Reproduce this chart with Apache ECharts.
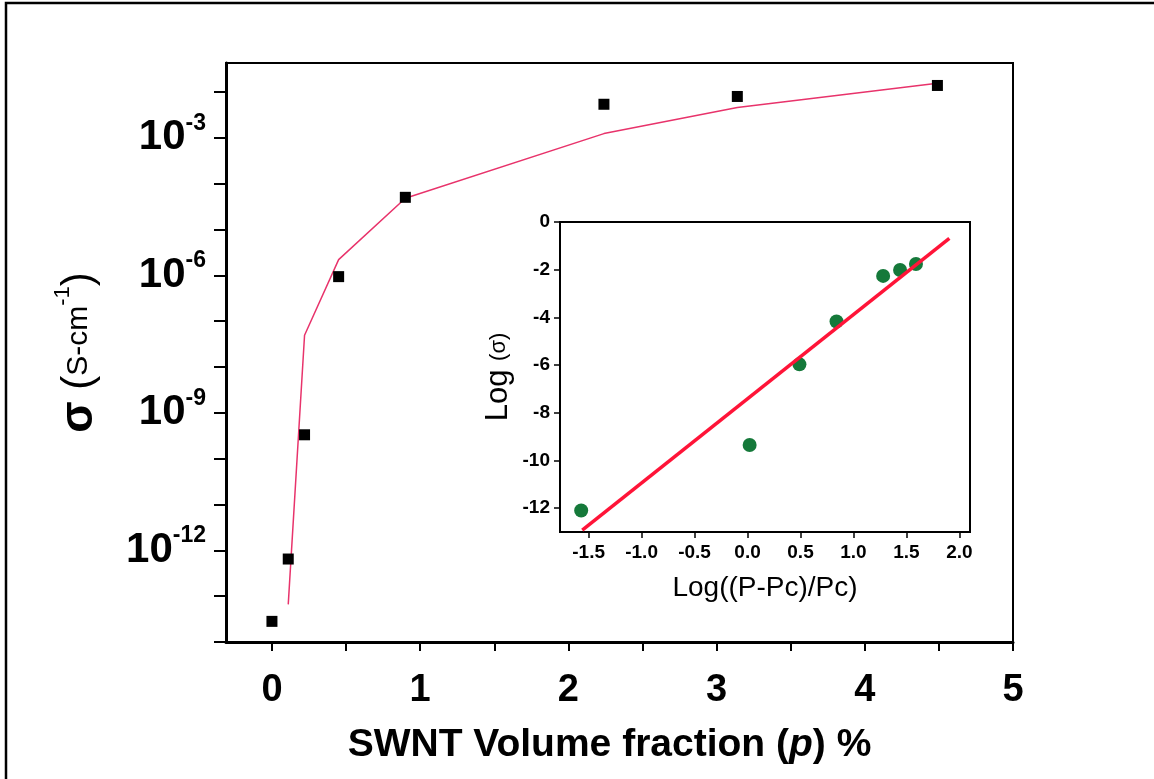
<!DOCTYPE html>
<html>
<head>
<meta charset="utf-8">
<script src="https://cdn.jsdelivr.net/npm/echarts@6/dist/echarts.min.js"></script>
<style>
  html, body { margin: 0; padding: 0; background: #fff; }
  #chart { width: 1154px; height: 779px; }
</style>
</head>
<body>
<div id="chart"></div>
<script>
const font = 'Liberation Sans';

// Main plot: conductivity vs SWNT volume fraction (sigma stored as log10)
const volFraction = [0, 0.11, 0.22, 0.45, 0.9, 2.24, 3.14, 4.49];
const sigmaLog = [-13.55, -12.19, -9.48, -6.03, -4.3, -2.27, -2.1, -1.86];

// Fitted curve as drawn in the picture
const fitFraction = [0.11, 0.22, 0.45, 0.9, 2.24, 3.14, 4.49];
const fitSigmaLog = [-13.18, -7.31, -5.66, -4.32, -2.91, -2.34, -1.81];

// Inset: log(sigma) vs log((p - pc) / pc)
const insetX = [-1.57, 0.02, 0.49, 0.84, 1.28, 1.44, 1.59];
const insetY = [-12.1, -9.35, -5.97, -4.17, -2.26, -2.01, -1.76];
const insetFitX = [-1.56, 1.905];
const insetFitY = [-12.92, -0.69];

// Tick labels
const mainXLabels = [0, 1, 2, 3, 4, 5];
const mainXTicks = [0, 0.5, 1, 1.5, 2, 2.5, 3, 3.5, 4, 4.5, 5];
const mainYLabels = [-12, -9, -6, -3];
const mainYTicks = [-14, -13, -12, -11, -10, -9, -8, -7, -6, -5, -4, -3, -2];
const insetXLabels = [-1.5, -1.0, -0.5, 0.0, 0.5, 1.0, 1.5, 2.0];
const insetYLabels = [-12, -10, -8, -6, -4, -2, 0];

const chart = echarts.init(document.getElementById('chart'));

const zip = (xs, ys) => xs.map((x, i) => [x, ys[i]]);

chart.setOption({
  animation: false,
  backgroundColor: '#fff',
  textStyle: { fontFamily: font, color: '#000' },
  graphic: [{
    type: 'rect',
    shape: { x: 6, y: 3, width: 1300, height: 900 },
    style: { fill: null, stroke: '#000', lineWidth: 2.5 },
    silent: true
  }],
  grid: [
    {
      left: 226, top: 63, width: 787, height: 579,
      show: true, borderColor: '#000', borderWidth: 2
    },
    {
      left: 560, top: 222, width: 410, height: 310,
      show: true, borderColor: '#000', borderWidth: 2,
      backgroundColor: '#fff', z: 5
    }
  ],
  xAxis: [
    {
      gridIndex: 0,
      type: 'value',
      min: -0.31,
      max: 5,
      axisLine: { show: true, onZero: false, lineStyle: { color: '#000', width: 3 } },
      axisTick: { show: true, customValues: mainXTicks, length: 9, lineStyle: { color: '#000', width: 2 } },
      axisLabel: {
        customValues: mainXLabels,
        fontSize: 38, fontWeight: 'bold', color: '#000', margin: 30
      },
      splitLine: { show: false },
      name: 'SWNT Volume fraction ({i|p}) %',
      nameLocation: 'middle',
      nameGap: 84,
      nameTextStyle: {
        fontSize: 39, fontWeight: 'bold', color: '#000',
        padding: [0, 20, 0, 0],
        rich: { i: { fontSize: 39, fontWeight: 'bold', fontStyle: 'italic', color: '#000' } }
      }
    },
    {
      gridIndex: 1,
      type: 'value',
      min: -1.77,
      max: 2.1,
      axisLine: { show: true, onZero: false, lineStyle: { color: '#000', width: 2 } },
      axisTick: { show: true, customValues: insetXLabels, length: 6, lineStyle: { color: '#000', width: 1.5 } },
      axisLabel: {
        customValues: insetXLabels,
        formatter: v => v.toFixed(1),
        fontSize: 19, fontWeight: 'bold', color: '#000', margin: 11
      },
      splitLine: { show: false },
      name: 'Log((P-Pc)/Pc)',
      nameLocation: 'middle',
      nameGap: 42,
      nameTextStyle: { fontSize: 28, color: '#000' },
      z: 6
    }
  ],
  yAxis: [
    {
      gridIndex: 0,
      type: 'value',
      min: -14,
      max: -1.37,
      axisLine: { show: true, onZero: false, lineStyle: { color: '#000', width: 3 } },
      axisTick: { show: true, customValues: mainYTicks, length: 12, lineStyle: { color: '#000', width: 2 } },
      axisLabel: {
        customValues: mainYLabels,
        formatter: v => '{b|10}{s|' + Math.round(v) + '}',
        margin: 20,
        rich: {
          b: { fontSize: 42, fontWeight: 'bold', color: '#000', lineHeight: 52, fontFamily: font },
          s: { fontSize: 23, fontWeight: 'bold', color: '#000', lineHeight: 22, verticalAlign: 'top', fontFamily: font }
        }
      },
      splitLine: { show: false },
      name: '{sg|σ}{p| (}{u|S-cm}{e|-1}{p|)}',
      nameLocation: 'middle',
      nameRotate: 90,
      nameGap: 120,
      nameTextStyle: {
        rich: {
          sg: { fontSize: 46, fontWeight: 'bold', color: '#000', lineHeight: 54, fontFamily: font },
          p: { fontSize: 42, color: '#000', lineHeight: 54, fontFamily: font },
          u: { fontSize: 30, color: '#000', lineHeight: 54, fontFamily: font },
          e: { fontSize: 22, color: '#000', lineHeight: 22, verticalAlign: 'top', fontFamily: font }
        }
      }
    },
    {
      gridIndex: 1,
      type: 'value',
      min: -13,
      max: 0,
      axisLine: { show: true, onZero: false, lineStyle: { color: '#000', width: 2 } },
      axisTick: { show: true, customValues: insetYLabels, length: 6, lineStyle: { color: '#000', width: 1.5 } },
      axisLabel: {
        customValues: insetYLabels,
        fontSize: 19, fontWeight: 'bold', color: '#000', margin: 10
      },
      splitLine: { show: false },
      name: '{l|Log }{s|(σ)}',
      nameLocation: 'middle',
      nameRotate: 90,
      nameGap: 46,
      nameTextStyle: {
        rich: {
          l: { fontSize: 31, color: '#000', fontFamily: font },
          s: { fontSize: 22, color: '#000', fontFamily: font }
        }
      },
      z: 6
    }
  ],
  series: [
    {
      name: 'fit',
      type: 'line',
      xAxisIndex: 0,
      yAxisIndex: 0,
      data: zip(fitFraction, fitSigmaLog),
      showSymbol: false,
      lineStyle: { color: '#e8336b', width: 1.5 },
      z: 2
    },
    {
      name: 'sigma',
      type: 'scatter',
      xAxisIndex: 0,
      yAxisIndex: 0,
      data: zip(volFraction, sigmaLog),
      symbol: 'rect',
      symbolSize: 11,
      itemStyle: { color: '#000', opacity: 1 },
      z: 3
    },
    {
      name: 'inset points',
      type: 'scatter',
      xAxisIndex: 1,
      yAxisIndex: 1,
      data: zip(insetX, insetY),
      symbol: 'circle',
      symbolSize: 14,
      itemStyle: { color: '#15793a', opacity: 1 },
      z: 7
    },
    {
      name: 'inset fit',
      type: 'line',
      xAxisIndex: 1,
      yAxisIndex: 1,
      data: zip(insetFitX, insetFitY),
      showSymbol: false,
      lineStyle: { color: '#ff1438', width: 3.5 },
      z: 8
    }
  ]
});
</script>
</body>
</html>
